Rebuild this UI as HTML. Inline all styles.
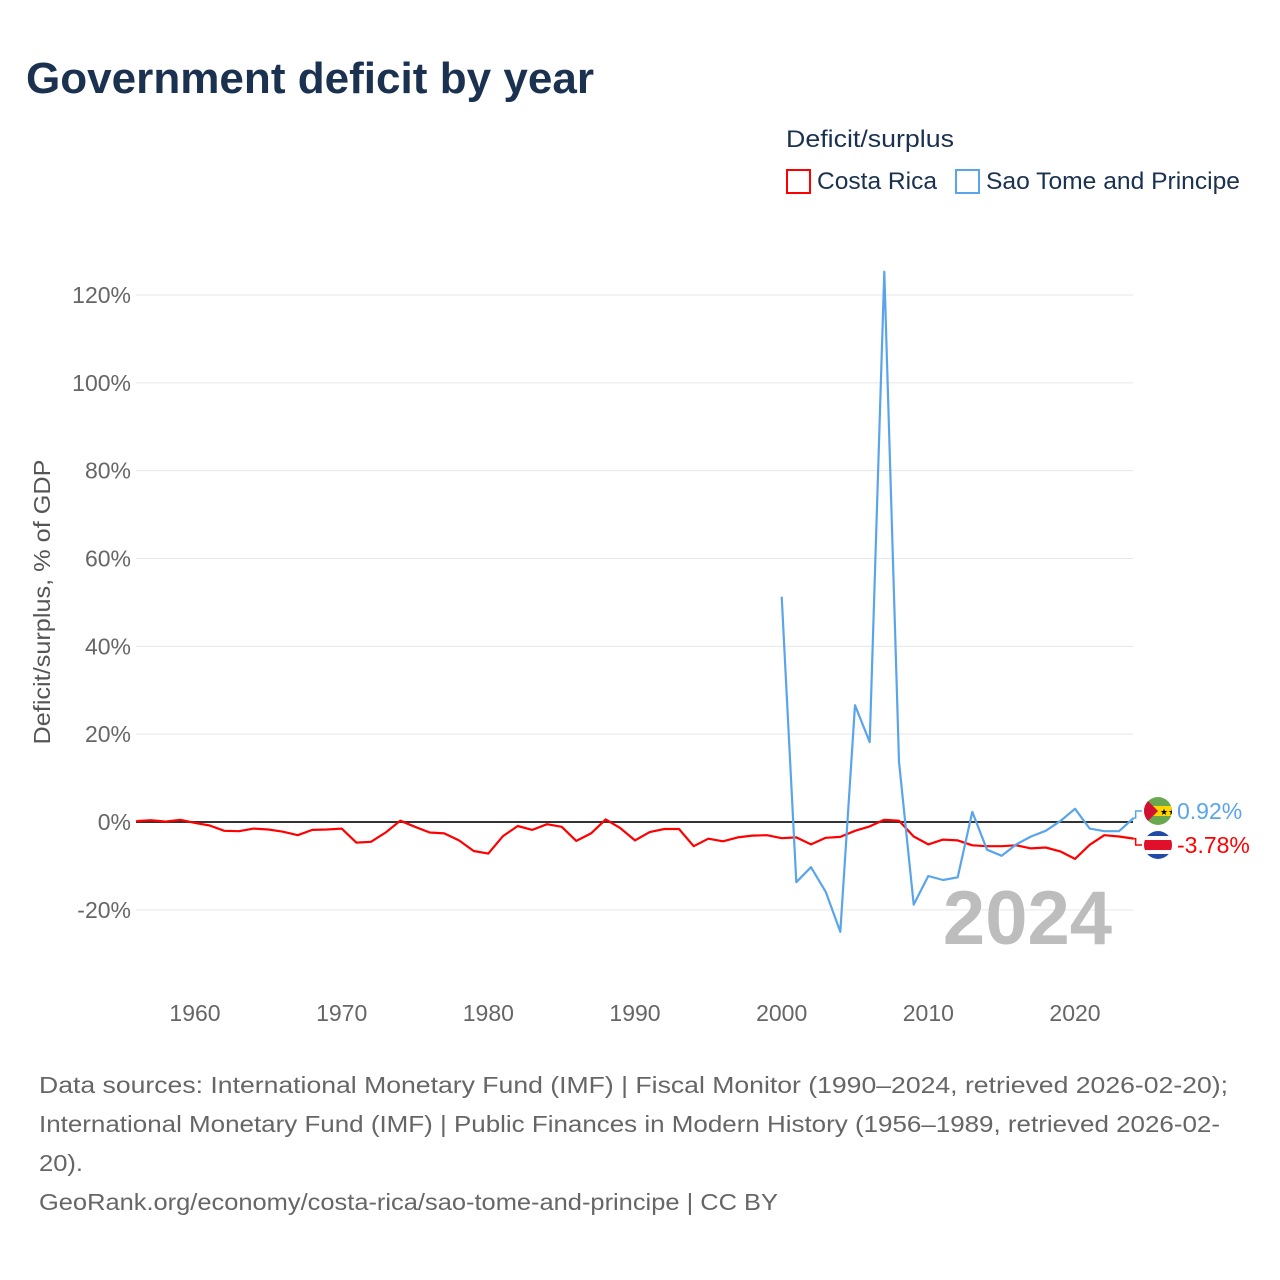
<!DOCTYPE html>
<html><head><meta charset="utf-8"><style>
html,body{margin:0;padding:0;background:#fff;}
svg{display:block;font-family:"Liberation Sans",sans-serif;}
</style></head><body>
<svg id="chart" width="1280" height="1280" viewBox="0 0 1280 1280">
<text x="26" y="93" font-size="44" font-weight="bold" fill="#1a3150" textLength="568" lengthAdjust="spacingAndGlyphs">Government deficit by year</text>
<g>
<text x="786" y="147" font-size="24" fill="#1a3150" textLength="168" lengthAdjust="spacingAndGlyphs">Deficit/surplus</text>
<g><rect x="787" y="170" width="23" height="23" fill="#fff" stroke="#ff0000" stroke-width="2"/><text x="817" y="189" font-size="24" fill="#1a3150" textLength="120" lengthAdjust="spacingAndGlyphs">Costa Rica</text></g>
<g><rect x="956" y="170" width="23" height="23" fill="#fff" stroke="#5aa5ea" stroke-width="2"/><text x="986" y="189" font-size="24" fill="#1a3150" textLength="254" lengthAdjust="spacingAndGlyphs">Sao Tome and Principe</text></g>
</g>
<g id="grid"></g>
<g id="yticks"></g>
<g id="xticks"></g>
<text transform="translate(50,602) rotate(-90)" text-anchor="middle" font-size="23" fill="#555" textLength="285" lengthAdjust="spacingAndGlyphs">Deficit/surplus, % of GDP</text>
<text x="1112" y="944" text-anchor="end" font-size="76" font-weight="bold" fill="#bdbdbd">2024</text>
<line x1="136" x2="1133" y1="822" y2="822" stroke="#333" stroke-width="2"/>
<g id="series"></g>
<g id="labels"></g>
<g font-size="23" fill="#666">
<text x="39" y="1093" textLength="1189" lengthAdjust="spacingAndGlyphs">Data sources: International Monetary Fund (IMF) | Fiscal Monitor (1990–2024, retrieved 2026-02-20);</text>
<text x="39" y="1132" textLength="1181" lengthAdjust="spacingAndGlyphs">International Monetary Fund (IMF) | Public Finances in Modern History (1956–1989, retrieved 2026-02-</text>
<text x="39" y="1171" textLength="44" lengthAdjust="spacingAndGlyphs">20).</text>
<text x="39" y="1210" textLength="739" lengthAdjust="spacingAndGlyphs">GeoRank.org/economy/costa-rica/sao-tome-and-principe | CC BY</text>
</g>
</svg>
<script>
const crYears = [1956,1957,1958,1959,1960,1961,1962,1963,1964,1965,1966,1967,1968,1969,1970,1971,1972,1973,1974,1975,1976,1977,1978,1979,1980,1981,1982,1983,1984,1985,1986,1987,1988,1989,1990,1991,1992,1993,1994,1995,1996,1997,1998,1999,2000,2001,2002,2003,2004,2005,2006,2007,2008,2009,2010,2011,2012,2013,2014,2015,2016,2017,2018,2019,2020,2021,2022,2023,2024];
const crValues = [0.2,0.4,0.1,0.5,-0.2,-0.8,-2.0,-2.1,-1.5,-1.7,-2.2,-3.0,-1.8,-1.7,-1.5,-4.7,-4.5,-2.4,0.3,-1.1,-2.4,-2.6,-4.2,-6.6,-7.2,-3.2,-0.9,-1.8,-0.5,-1.1,-4.3,-2.6,0.6,-1.4,-4.2,-2.3,-1.6,-1.6,-5.5,-3.8,-4.4,-3.5,-3.1,-3.0,-3.7,-3.5,-5.1,-3.6,-3.4,-2.0,-1.0,0.5,0.3,-3.3,-5.1,-4.0,-4.2,-5.3,-5.5,-5.5,-5.3,-6.0,-5.8,-6.7,-8.4,-5.2,-3.0,-3.3,-3.78];
const stpYears = [2000,2001,2002,2003,2004,2005,2006,2007,2008,2009,2010,2011,2012,2013,2014,2015,2016,2017,2018,2019,2020,2021,2022,2023,2024];
const stpValues = [51.3,-13.7,-10.3,-15.9,-25.0,26.6,18.2,125.3,13.7,-18.8,-12.3,-13.2,-12.6,2.3,-6.3,-7.7,-5.1,-3.3,-2.0,0.2,3.0,-1.5,-2.1,-2.1,0.92];
const yTicks = [-20,0,20,40,60,80,100,120];
const xTicks = [1960,1970,1980,1990,2000,2010,2020];

const NS='http://www.w3.org/2000/svg';
function xS(yr){return 195+(yr-1960)*(880/60);}
function yS(v){return 822-v*(527/120);}
function mk(tag,attrs,parent){const e=document.createElementNS(NS,tag);for(const k in attrs)e.setAttribute(k,attrs[k]);parent.appendChild(e);return e;}
const grid=document.getElementById('grid'),yt=document.getElementById('yticks'),xt=document.getElementById('xticks');
yTicks.forEach(v=>{
  const l=mk('line',{x1:136,x2:1133,y1:yS(v),y2:yS(v),stroke:'#e6e6e6','stroke-width':1},grid);
  
  
  const t=mk('text',{x:131,y:yS(v)+8,'text-anchor':'end','font-size':23,fill:'#666'},yt);
  t.textContent=v+'%';
  
  
});
xTicks.forEach(yr=>{
  const t=mk('text',{x:xS(yr),y:1021,'text-anchor':'middle','font-size':23,fill:'#666'},xt);
  t.textContent=yr;
  
  
});
const sg=document.getElementById('series');
function line(years,vals,color,name){
  const d=years.map((y,i)=>(i?'L':'M')+xS(y).toFixed(1)+','+yS(vals[i]).toFixed(1)).join('');
  const p=mk('path',{d:d,fill:'none',stroke:color,'stroke-width':2.2,'stroke-linejoin':'round'},sg);
  
  
}
line(crYears,crValues,'#ff0000','line-costa-rica');
line(stpYears,stpValues,'#5aa5ea','line-sao-tome');
const lg=document.getElementById('labels');
function endLabel(yr,val,color,ly,text,name){
  const x0=xS(yr),y0=yS(val);
  const c=mk('path',{d:`M${x0},${y0}H${x0+2}V${ly}H1142`,fill:'none',stroke:color,'stroke-width':1.5},lg);
  
  
  const t=mk('text',{x:1177,y:ly+8,'font-size':23,fill:color},lg);
  t.textContent=text;
  
  
}
endLabel(2024,stpValues[stpValues.length-1],'#5aa5ea',811,stpValues[stpValues.length-1].toFixed(2)+'%','sao-tome-label');
endLabel(2024,crValues[crValues.length-1],'#ff0000',845,crValues[crValues.length-1].toFixed(2)+'%','costa-rica-label');
const f1=mk('g',{},lg);


f1.innerHTML='<defs><clipPath id="c1"><circle cx="1158" cy="811" r="14"/></clipPath><clipPath id="c2"><circle cx="1158" cy="845" r="14"/></clipPath></defs>'+
'<g clip-path="url(#c1)"><rect x="1144" y="797" width="28" height="28" fill="#6aa84f"/><rect x="1144" y="806" width="28" height="10" fill="#ffd700"/><path d="M1144,797L1158,811L1144,825Z" fill="#d21034"/><text x="1160" y="815" font-size="9" fill="#000">★★</text></g>';
const f2=mk('g',{},lg);


f2.innerHTML='<g clip-path="url(#c2)"><rect x="1144" y="831" width="28" height="28" fill="#1f4aa8"/><rect x="1144" y="836" width="28" height="18" fill="#fff"/><rect x="1144" y="840" width="28" height="10" fill="#e0102a"/></g>';
</script>
</body></html>
